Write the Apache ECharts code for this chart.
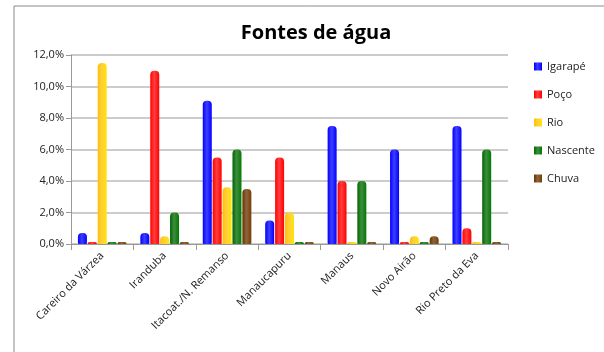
<!DOCTYPE html>
<html><head><meta charset="utf-8">
<script src="https://cdn.jsdelivr.net/npm/echarts@6/dist/echarts.min.js"></script>
<style>html,body{margin:0;padding:0;background:#fff}#c{width:604px;height:352px}</style>
</head><body><div id="c"></div>
<script>
const categories = ["Careiro da Várzea","Iranduba","Itacoat./N. Remanso","Manaucapuru","Manaus","Novo Airão","Rio Preto da Eva"];
const seriesNames = ["Igarapé","Poço","Rio","Nascente","Chuva"];
const igarape = [0.7, 0.7, 9.1, 1.5, 7.5, 6.0, 7.5];
const poco = [0, 11.0, 5.5, 5.5, 4.0, 0, 1.0];
const rio = [11.5, 0.5, 3.6, 2.0, 0, 0.5, 0];
const nascente = [0, 2.0, 6.0, 0, 4.0, 0, 6.0];
const chuva = [0, 0, 3.5, 0, 0, 0.5, 0];
const yTicks = [0, 2, 4, 6, 8, 10, 12];
const colors = ["#0000FF","#FF0000","#FFC000","#006600","#663300"];

const values = [igarape, poco, rio, nascente, chuva];
function grad(c){
  return new echarts.graphic.LinearGradient(0,0,1,0,[
    {offset:0,color:c},{offset:0.45,color:echarts.color.lift(c,0.25)},{offset:1,color:echarts.color.lift(c,-0.2)}]);
}
const chart = echarts.init(document.getElementById('c'));
chart.setOption({
  animation:false,
  title:{text:'Fontes de água',left:311,top:18,textAlign:'center',
    textStyle:{fontFamily:'Open Sans',fontSize:20,fontWeight:'bold',color:'#000'}},
  legend:{orient:'vertical',left:529,top:56,itemGap:17,itemWidth:8,itemHeight:8,icon:'rect',
    textStyle:{fontFamily:'Open Sans',fontSize:11,color:'#222'},data:seriesNames},
  grid:{left:71,right:96,top:55,bottom:108},
  xAxis:{type:'category',data:categories,
    axisLine:{lineStyle:{color:'#999'}},axisTick:{show:true,length:6,lineStyle:{color:'#999'}},
    axisLabel:{rotate:45,interval:0,fontFamily:'Open Sans',fontSize:11,color:'#222',margin:10}},
  yAxis:{type:'value',min:yTicks[0],max:yTicks[yTicks.length-1],interval:2,
    axisLine:{show:true,lineStyle:{color:'#999'}},axisTick:{show:true,length:5,lineStyle:{color:'#999'}},
    splitLine:{lineStyle:{color:'#bbb',width:1.5}},
    axisLabel:{fontFamily:'Open Sans',fontSize:11,color:'#222',margin:7,
      formatter:v=>v.toFixed(1).replace('.',',')+'%'}},
  graphic:[{type:'rect',shape:{x:14,y:6,width:600,height:360},style:{fill:'none',stroke:'#8a8a8a',lineWidth:1},silent:true}],
  series: seriesNames.map((n,i)=>({
    name:n,type:'bar',data:values[i],barWidth:9,barGap:'10%',barMinHeight:2,
    itemStyle:{color:grad(colors[i]),borderRadius:[4,4,1,1]}
  }))
});
</script></body></html>
